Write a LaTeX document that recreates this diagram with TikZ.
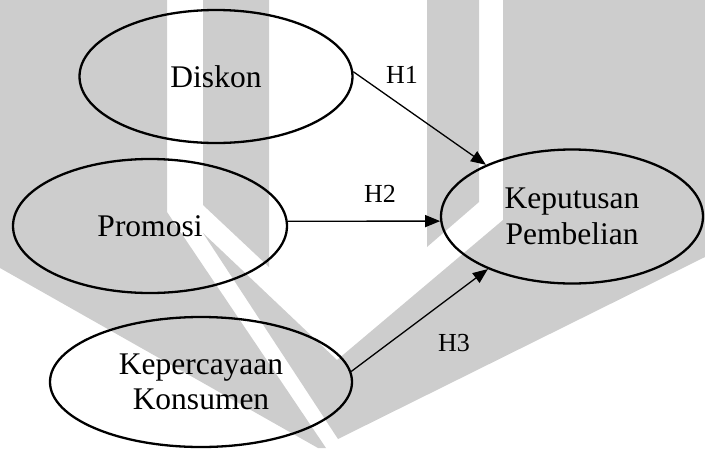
\documentclass[tikz,border=0pt]{standalone}
\usepackage{fontspec}
\setmainfont{Liberation Serif}
\usetikzlibrary{arrows.meta,shapes.geometric}
\definecolor{wm}{RGB}{205,205,205}
\begin{document}
\begin{tikzpicture}[x=1pt,y=-1pt,
  var/.style={draw, line width=2.3pt, ellipse, inner sep=0pt, align=center,
    font=\fontsize{31.5}{35.5}\selectfont},
  arr/.style={line width=1.3pt, -{Triangle[length=15pt,width=12pt]}},
  lbl/.style={font=\fontsize{26}{30}\selectfont, inner sep=0pt}]
\useasboundingbox (0,0) rectangle (705,448);
% watermark
\fill[wm] (0,0) -- (167,0) -- (167,212) -- (326,448) -- (318,448) -- (0,268) -- cycle;
\fill[wm] (203,0) -- (269,0) -- (269,267) -- (203,205) -- cycle;
\fill[wm] (427,0) -- (479,0) -- (479,202) -- (427,247) -- cycle;
\fill[wm] (503,0) -- (705,0) -- (705,257) -- (338,439) -- (203,233) -- (337,360) -- (503,220) -- cycle;
% nodes
\node[var, minimum width=273pt, minimum height=133pt] (d) at (216,76.5) {Diskon};
\node[var, minimum width=274pt, minimum height=134pt] (p) at (150,226) {Promosi};
\node[var, minimum width=262pt, minimum height=134pt] (k) at (572,216.5) {Keputusan\\Pembelian};
\node[var, minimum width=302pt, minimum height=130pt] (kc) at (201,382) {Kepercayaan\\Konsumen};
% labels
\node[lbl] (h1) at (402,75) {H1};
\node[lbl] (h2) at (380,194) {H2};
\node[lbl] (h3) at (454,343) {H3};
% arrows
\draw[arr] (d.2) -- (k.149);
\draw[arr] (p.2) -- (k.182);
\draw[arr] (kc.4) -- (k.212);
\end{tikzpicture}
\end{document}
